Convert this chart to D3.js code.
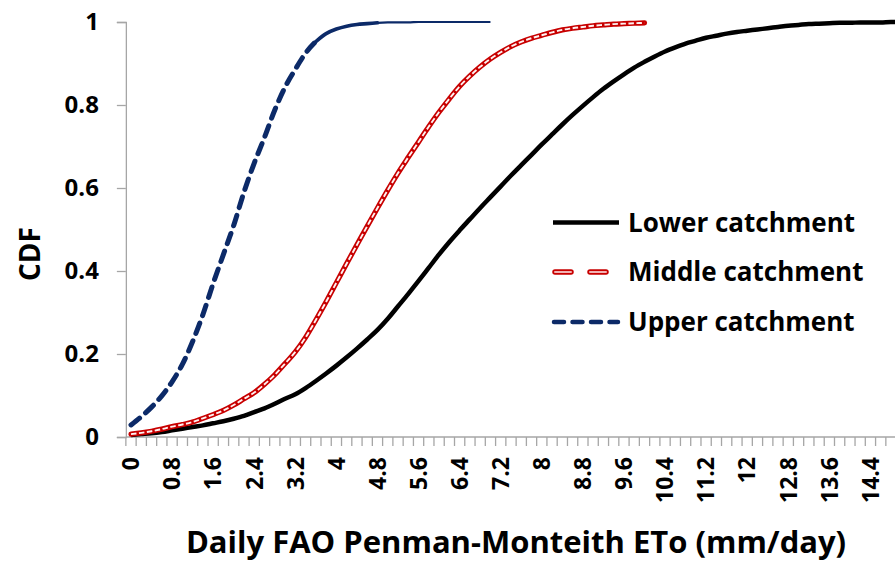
<!DOCTYPE html>
<html>
<head>
<meta charset="utf-8">
<script src="https://cdn.jsdelivr.net/npm/d3@7/dist/d3.min.js"></script>
<style>
  html, body { margin: 0; padding: 0; background: #fff; }
  svg { display: block; }
  text { font-family: "Open Sans", "Noto Sans", sans-serif; font-weight: 700; fill: #000; }
</style>
</head>
<body>
<svg id="chart" width="895" height="561"></svg>
<script>
// Daily ETo classes (mm/day), one per category on the x axis
const etoClasses = [
  0, 0.2, 0.4, 0.6, 0.8, 1.0, 1.2, 1.4, 1.6, 1.8,
  2.0, 2.2, 2.4, 2.6, 2.8, 3.0, 3.2, 3.4, 3.6, 3.8,
  4.0, 4.2, 4.4, 4.6, 4.8, 5.0, 5.2, 5.4, 5.6, 5.8,
  6.0, 6.2, 6.4, 6.6, 6.8, 7.0, 7.2, 7.4, 7.6, 7.8,
  8.0, 8.2, 8.4, 8.6, 8.8, 9.0, 9.2, 9.4, 9.6, 9.8,
  10.0, 10.2, 10.4, 10.6, 10.8, 11.0, 11.2, 11.4, 11.6, 11.8,
  12.0, 12.2, 12.4, 12.6, 12.8, 13.0, 13.2, 13.4, 13.6, 13.8,
  14.0, 14.2, 14.4, 14.6, 14.8, 15.0
];

// Labelled categories along the x axis
const xTickLabels = [0, 0.8, 1.6, 2.4, 3.2, 4, 4.8, 5.6, 6.4, 7.2, 8, 8.8, 9.6, 10.4, 11.2, 12, 12.8, 13.6, 14.4];
const yTickLabels = [0, 0.2, 0.4, 0.6, 0.8, 1];

// Cumulative distribution of daily ETo for each catchment
const lowerCdf = [
  0.005, 0.007, 0.009, 0.012, 0.016, 0.020, 0.024, 0.028, 0.033, 0.038,
  0.044, 0.051, 0.060, 0.069, 0.080, 0.092, 0.103, 0.118, 0.135, 0.153,
  0.172, 0.192, 0.213, 0.235, 0.258, 0.285, 0.315, 0.345, 0.376, 0.408,
  0.440, 0.470, 0.498, 0.525, 0.552, 0.578, 0.604, 0.630, 0.655, 0.680,
  0.705, 0.729, 0.753, 0.776, 0.798, 0.819, 0.839, 0.857, 0.874, 0.890,
  0.904, 0.917, 0.929, 0.939, 0.948, 0.955, 0.962, 0.967, 0.972, 0.976,
  0.979, 0.982, 0.985, 0.988, 0.991, 0.993, 0.995, 0.996, 0.997, 0.998,
  0.998, 0.999, 0.999, 0.999, 1.000, 1.000
];
const middleCdf = [
  0.007, 0.010, 0.014, 0.019, 0.025, 0.030, 0.036, 0.045, 0.054, 0.064,
  0.077, 0.092, 0.107, 0.127, 0.150, 0.177, 0.205, 0.240, 0.282, 0.326,
  0.372, 0.418, 0.463, 0.508, 0.552, 0.595, 0.636, 0.674, 0.711, 0.748,
  0.783, 0.815, 0.845, 0.870, 0.892, 0.911, 0.927, 0.941, 0.952, 0.961,
  0.968, 0.975, 0.981, 0.985, 0.988, 0.991, 0.993, 0.995, 0.996, 0.997,
  0.998
];
const upperCdf = [
  0.029, 0.049, 0.072, 0.099, 0.133, 0.175, 0.230, 0.295, 0.370, 0.440,
  0.510, 0.590, 0.660, 0.722, 0.788, 0.843, 0.886, 0.925, 0.953, 0.972,
  0.983, 0.990, 0.994, 0.996, 0.998, 0.999, 0.999, 0.999, 1.000, 1.000,
  1.000, 1.000, 1.000, 1.000, 1.000, 1.000
];

const seriesNames = ["Lower catchment", "Middle catchment", "Upper catchment"];

const svg = d3.select("#chart");
const step = 0.2;

// category centres: one class every 10.27 px
const x = d3.scaleLinear().domain([0, 14.4]).range([131, 131 + 72 * 10.27]);
const y = d3.scaleLinear().domain([0, 1]).range([437, 22]);

const axisColor = "#a6a6a6";
const plotLeft = x(-step / 2);
const plotRight = x(etoClasses[etoClasses.length - 1] + step / 2);

// Y axis
const yAxis = d3.axisLeft(y)
  .tickValues(yTickLabels)
  .tickFormat(d => d)
  .tickSize(9)
  .tickPadding(18);
const gy = svg.append("g").attr("transform", `translate(${plotLeft},0)`).call(yAxis);
gy.select(".domain").attr("stroke", axisColor).attr("stroke-width", 1.3);
gy.selectAll(".tick line").attr("stroke", axisColor).attr("stroke-width", 1.3);
gy.selectAll(".tick text")
  .attr("font-family", "Open Sans, sans-serif")
  .attr("font-weight", 700)
  .attr("font-size", 24)
  .attr("fill", "#000");

// X axis baseline and category boundary ticks
const gx = svg.append("g");
gx.append("line")
  .attr("x1", plotLeft).attr("x2", plotRight)
  .attr("y1", y(0)).attr("y2", y(0))
  .attr("stroke", axisColor).attr("stroke-width", 1.3);
const boundaries = etoClasses.map(v => v - step / 2).concat([etoClasses[etoClasses.length - 1] + step / 2]);
gx.selectAll("line.tick")
  .data(boundaries)
  .join("line")
  .attr("class", "tick")
  .attr("x1", d => x(d)).attr("x2", d => x(d))
  .attr("y1", y(0)).attr("y2", y(0) + 9)
  .attr("stroke", axisColor).attr("stroke-width", 1.3);

gx.selectAll("text.xl")
  .data(xTickLabels)
  .join("text")
  .attr("class", "xl")
  .attr("transform", d => `translate(${x(d)},${y(0) + 20}) rotate(-90)`)
  .attr("text-anchor", "end")
  .attr("dy", "0.36em")
  .attr("font-size", 23)
  .text(d => d);

// Axis titles
svg.append("text")
  .attr("x", 516)
  .attr("y", 553)
  .attr("text-anchor", "middle")
  .attr("font-size", 31)
  .text("Daily FAO Penman-Monteith ETo (mm/day)");

svg.append("text")
  .attr("transform", `translate(40,254) rotate(-90)`)
  .attr("text-anchor", "middle")
  .attr("font-size", 28)
  .text("CDF");

// Lines
const lineFrom = offset => d3.line()
  .x((d, i) => x(etoClasses[i + offset]))
  .y(d => y(d))
  .curve(d3.curveMonotoneX);
const line = lineFrom(0);

const blue = "#0c2a68";
const red = "#c80000";

// Lower: solid black
svg.append("path")
  .datum(lowerCdf)
  .attr("fill", "none")
  .attr("stroke", "#000")
  .attr("stroke-width", 4.5)
  .attr("stroke-linejoin", "round")
  .attr("d", line);

// Middle: red outline carrying short white dashes
svg.append("path")
  .datum(middleCdf)
  .attr("fill", "none")
  .attr("stroke", red)
  .attr("stroke-width", 5.2)
  .attr("stroke-linecap", "round")
  .attr("d", line);
svg.append("path")
  .datum(middleCdf)
  .attr("fill", "none")
  .attr("stroke", "#fff2f2")
  .attr("stroke-width", 1.9)
  .attr("stroke-dasharray", "5.5,2.5")
  .attr("d", line);

// Upper: long navy dashes, the flat tail drawn as a thinner solid line
const upperSplit = 18; // index of 3.6 mm/day
svg.append("path")
  .datum(upperCdf.slice(0, upperSplit + 1))
  .attr("fill", "none")
  .attr("stroke", blue)
  .attr("stroke-width", 5)
  .attr("stroke-linecap", "round")
  .attr("stroke-dasharray", "11,8")
  .attr("d", lineFrom(0));
svg.append("path")
  .datum(upperCdf.slice(upperSplit, 25))
  .attr("fill", "none")
  .attr("stroke", blue)
  .attr("stroke-width", 3.6)
  .attr("stroke-linecap", "round")
  .attr("d", lineFrom(upperSplit));
svg.append("path")
  .datum(upperCdf.slice(24))
  .attr("fill", "none")
  .attr("stroke", blue)
  .attr("stroke-width", 2.2)
  .attr("d", lineFrom(24));

// Legend
const legend = svg.append("g");
const lgX = 553, lgLen = 66, lgText = 628;
const rows = [222.5, 272, 322];

legend.append("line")
  .attr("x1", lgX).attr("x2", lgX + lgLen)
  .attr("y1", rows[0]).attr("y2", rows[0])
  .attr("stroke", "#000").attr("stroke-width", 4.5);

[[lgX + 2, lgX + 18], [lgX + 37, lgX + 53]].forEach(([a, b]) => {
  legend.append("line")
    .attr("x1", a).attr("x2", b)
    .attr("y1", rows[1]).attr("y2", rows[1])
    .attr("stroke", red).attr("stroke-width", 5.5).attr("stroke-linecap", "round");
  legend.append("line")
    .attr("x1", a).attr("x2", b)
    .attr("y1", rows[1]).attr("y2", rows[1])
    .attr("stroke", "#f2b3b3").attr("stroke-width", 2).attr("stroke-linecap", "round");
});

legend.append("line")
  .attr("x1", lgX + 1).attr("x2", lgX + lgLen - 1)
  .attr("y1", rows[2]).attr("y2", rows[2])
  .attr("stroke", blue).attr("stroke-width", 4.5)
  .attr("stroke-linecap", "round")
  .attr("stroke-dasharray", "10,8.5");

legend.selectAll("text")
  .data(seriesNames)
  .join("text")
  .attr("x", lgText)
  .attr("y", (d, i) => rows[i])
  .attr("dy", "0.36em")
  .attr("font-size", 26)
  .text(d => d);
</script>
</body>
</html>
